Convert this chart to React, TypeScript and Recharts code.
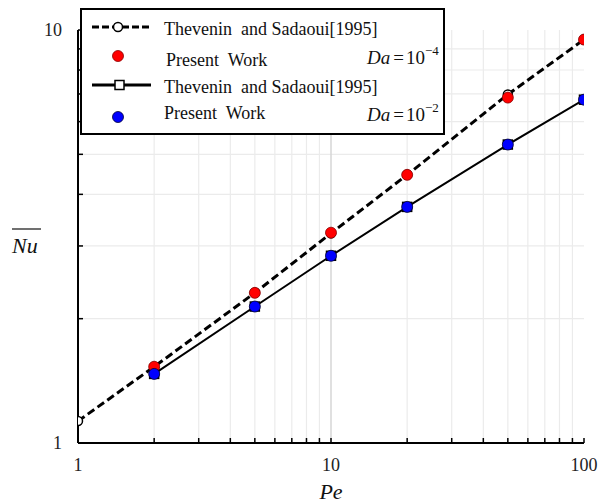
import React from "react";
import {
  ComposedChart,
  Line,
  XAxis,
  YAxis,
  CartesianGrid,
  ReferenceLine,
  Legend,
} from "recharts";

// Reference: Thevenin and Sadaoui [1995], Da = 1e-4
const peRefA = [1, 2, 5, 10, 20, 50, 100];
const nuRefA = [1.13, 1.53, 2.31, 3.22, 4.46, 6.98, 9.48];
// Present work, Da = 1e-4
const pePresentA = [2, 5, 10, 20, 50, 100];
const nuPresentA = [1.53, 2.31, 3.23, 4.46, 6.86, 9.48];
// Reference: Thevenin and Sadaoui [1995], Da = 1e-2
const peRefB = [2, 5, 10, 20, 50, 100];
const nuRefB = [1.47, 2.14, 2.84, 3.73, 5.28, 6.78];
// Present work, Da = 1e-2
const pePresentB = [2, 5, 10, 20, 50, 100];
const nuPresentB = [1.47, 2.14, 2.84, 3.73, 5.28, 6.78];

const xTicks = [1, 2, 3, 4, 5, 6, 7, 8, 9, 10, 20, 30, 40, 50, 60, 70, 80, 90, 100];
const xLabels = [1, 10, 100];
const xMinorGrid = [2, 3, 4, 5, 6, 7, 8, 9, 20, 30, 40, 50, 60, 70, 80, 90];
const yTicks = [1, 2, 3, 4, 5, 6, 7, 8, 9, 10];
const yLabels = [1, 10];
const yMinorGrid = [2, 3, 4, 5, 6, 7, 8, 9];

const toPoints = (xs: number[], ys: number[]) => xs.map((x, i) => ({ pe: x, nu: ys[i] }));
const refA = toPoints(peRefA, nuRefA);
const presentA = toPoints(pePresentA, nuPresentA);
const refB = toPoints(peRefB, nuRefB);
const presentB = toPoints(pePresentB, nuPresentB);

const FONT = "'Liberation Serif', 'Times New Roman', serif";

const XTick = (props: any) => {
  const { x, y, payload } = props;
  const v = payload.value;
  return (
    <g>
      <line x1={x} y1={y} x2={x} y2={y - 5} stroke="#000" strokeWidth={1.5} />
      {xLabels.includes(v) && (
        <text x={x} y={y + 28} textAnchor="middle" fontFamily={FONT} fontSize={18} fill="#222">
          {v}
        </text>
      )}
    </g>
  );
};

const YTick = (props: any) => {
  const { x, y, payload } = props;
  const v = payload.value;
  return (
    <g>
      <line x1={x} y1={y} x2={x + 5} y2={y} stroke="#000" strokeWidth={1.5} />
      {yLabels.includes(v) && (
        <text x={x - 16} y={y + 6} textAnchor="end" fontFamily={FONT} fontSize={18} fill="#222">
          {v}
        </text>
      )}
    </g>
  );
};

const OpenCircle = (props: any) => {
  const { cx, cy } = props;
  if (cx == null || cy == null) return null;
  return <circle cx={cx} cy={cy} r={4.5} fill="#fff" stroke="#000" strokeWidth={1.5} />;
};

const OpenSquare = (props: any) => {
  const { cx, cy } = props;
  if (cx == null || cy == null) return null;
  return <rect x={cx - 4.5} y={cy - 4.5} width={9} height={9} fill="#fff" stroke="#000" strokeWidth={1.5} />;
};

const makeDot = (color: string, edge: string) => (props: any) => {
  const { cx, cy, index } = props;
  if (cx == null || cy == null) return <g key={index} />;
  return <circle key={index} cx={cx} cy={cy} r={5.5} fill={color} stroke={edge} strokeWidth={0.8} />;
};
const RedDot = makeDot("#ff0000", "#800");
const BlueDot = makeDot("#0000ff", "#003");

const DaText = ({ x, y, exp }: { x: number; y: number; exp: string }) => (
  <text x={x} y={y} fontFamily={FONT} fontSize={19} fill="#111">
    <tspan fontStyle="italic">Da</tspan>
    <tspan dx={3}>=</tspan>
    <tspan dx={2}>10</tspan>
    <tspan dy={-9} fontSize={13}>{exp}</tspan>
  </text>
);

const LegendBox = () => (
  <svg width={365} height={127} style={{ display: "block" }}>
    <rect x={1} y={1} width={363} height={125} fill="#fff" stroke="#000" strokeWidth={2} />
    {/* row 1 */}
    <line x1={12} y1={19} x2={71} y2={19} stroke="#000" strokeWidth={3} strokeDasharray="7 3" />
    <circle cx={38} cy={19} r={4.5} fill="#fff" stroke="#000" strokeWidth={1.5} />
    <text x={84} y={27} fontFamily={FONT} fontSize={18} fill="#111" xmlSpace="preserve">
      Thevenin  and Sadaoui[1995]
    </text>
    {/* row 2 */}
    <circle cx={38} cy={48} r={5.5} fill="#ff0000" stroke="#800" strokeWidth={0.8} />
    <text x={86} y={58} fontFamily={FONT} fontSize={18} fill="#111" xmlSpace="preserve">
      Present  Work
    </text>
    <DaText x={287} y={56} exp="−4" />
    {/* row 3 */}
    <line x1={12} y1={77} x2={71} y2={77} stroke="#000" strokeWidth={3} />
    <rect x={35} y={72.5} width={9} height={9} fill="#fff" stroke="#000" strokeWidth={1.5} />
    <text x={84} y={85} fontFamily={FONT} fontSize={18} fill="#111" xmlSpace="preserve">
      Thevenin  and Sadaoui[1995]
    </text>
    {/* row 4 */}
    <circle cx={38} cy={109} r={5.5} fill="#0000ff" stroke="#003" strokeWidth={0.8} />
    <text x={84} y={111} fontFamily={FONT} fontSize={18} fill="#111" xmlSpace="preserve">
      Present  Work
    </text>
    <DaText x={287} y={113} exp="−2" />
  </svg>
);

const YLabel = () => (
  <g>
    <line x1={12} y1={229} x2={41} y2={229} stroke="#111" strokeWidth={1.2} />
    <text x={12} y={253} fontFamily={FONT} fontSize={22} fontStyle="italic" fill="#111">
      Nu
    </text>
  </g>
);

export default function App() {
  return (
    <div style={{ position: "absolute", left: 0, top: 0, width: 604, height: 504, background: "#fff" }}>
      <ComposedChart
        width={604}
        height={504}
        margin={{ top: 30, right: 20, bottom: 21, left: 18 }}
        style={{ fontFamily: FONT }}
      >
        <CartesianGrid
          stroke="#ebebeb"
          strokeWidth={1.2}
          horizontalValues={yMinorGrid}
          verticalValues={xMinorGrid}
        />
        <ReferenceLine x={10} stroke="#d6d6d6" strokeWidth={1.5} />
        <XAxis
          dataKey="pe"
          type="number"
          scale="log"
          domain={[1, 100]}
          ticks={xTicks}
          interval={0}
          allowDataOverflow
          height={40}
          tickSize={0}
          tickMargin={0}
          tickLine={false}
          axisLine={{ stroke: "#000", strokeWidth: 2 }}
          tick={<XTick />}
          label={{ value: "Pe", position: "insideBottom", offset: -16, fontStyle: "italic", fontSize: 22, fill: "#111", fontFamily: FONT }}
        />
        <XAxis
          xAxisId="top"
          orientation="top"
          dataKey="pe"
          type="number"
          scale="log"
          domain={[1, 100]}
          allowDataOverflow
          height={0}
          tick={false}
          tickLine={false}
          axisLine={{ stroke: "#000", strokeWidth: 1.5 }}
        />
        <YAxis
          dataKey="nu"
          type="number"
          scale="log"
          domain={[1, 10]}
          ticks={yTicks}
          interval={0}
          allowDataOverflow
          width={60}
          tickSize={0}
          tickMargin={0}
          tickLine={false}
          axisLine={{ stroke: "#000", strokeWidth: 2 }}
          tick={<YTick />}
        />
        <YAxis
          yAxisId="right"
          orientation="right"
          dataKey="nu"
          type="number"
          scale="log"
          domain={[1, 10]}
          allowDataOverflow
          width={0}
          tick={false}
          tickLine={false}
          axisLine={{ stroke: "#000", strokeWidth: 2 }}
        />
        <Line
          data={refA}
          dataKey="nu"
          type="linear"
          stroke="#000"
          strokeWidth={3}
          strokeDasharray="8 4"
          dot={<OpenCircle />}
          activeDot={false}
          isAnimationActive={false}
          legendType="none"
        />
        <Line
          data={refB}
          dataKey="nu"
          type="linear"
          stroke="#000"
          strokeWidth={2}
          dot={<OpenSquare />}
          activeDot={false}
          isAnimationActive={false}
          legendType="none"
        />
        <Line
          data={presentA}
          dataKey="nu"
          stroke="none"
          strokeWidth={0}
          dot={RedDot}
          activeDot={false}
          isAnimationActive={false}
          legendType="none"
        />
        <Line
          data={presentB}
          dataKey="nu"
          stroke="none"
          strokeWidth={0}
          dot={BlueDot}
          activeDot={false}
          isAnimationActive={false}
          legendType="none"
        />
        <Legend
          layout="vertical"
          align="center"
          verticalAlign="middle"
          wrapperStyle={{ position: "absolute", left: 80, top: 8, width: 365, height: 127 }}
          content={() => <LegendBox />}
        />
      </ComposedChart>
      <svg width={604} height={504} style={{ position: "absolute", left: 0, top: 0, pointerEvents: "none" }}>
        <YLabel />
      </svg>
    </div>
  );
}
